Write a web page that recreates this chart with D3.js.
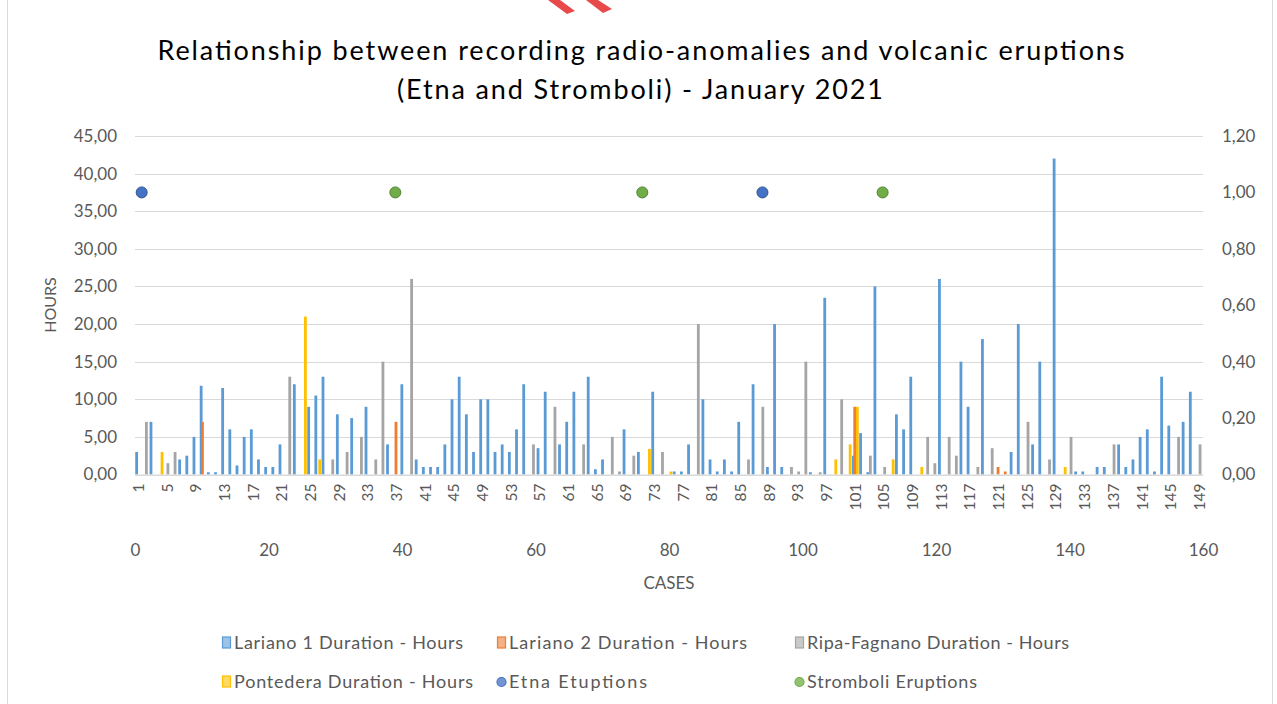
<!DOCTYPE html>
<html><head><meta charset="utf-8">
<script src="https://cdn.jsdelivr.net/npm/d3@7"></script>
<style>
body{margin:0;background:#fff;}
svg{display:block;font-family:Lato,"Open Sans",sans-serif;}
</style>
</head><body>
<svg id="chart" width="1277" height="704"></svg>
<script>
// ---------------- DATA ----------------
const cases = d3.range(1, 150);               // CASES 1..149
const caseTickLabels = d3.range(1, 150, 4);   // 1,5,9,...,149
const leftTicks = [0,5,10,15,20,25,30,35,40,45];
const rightTicks = [0,0.2,0.4,0.6,0.8,1.0,1.2];
const bottomTicks = [0,20,40,60,80,100,120,140,160];

// [case, hours]
const lariano1 = [[1,3],[3,7],[7,2],[8,2.5],[9,5],[10,11.8],[11,0.3],[12,0.3],[13,11.5],[14,6],[15,1.2],[16,5],[17,6],[18,2],[19,1],[20,1],[21,4],[23,12],[25,9],[26,10.5],[27,13],[29,8],[31,7.5],[33,9],[36,4],[38,12],[40,2],[41,1],[42,1],[43,1],[44,4],[45,10],[46,13],[47,8],[48,3],[49,10],[50,10],[51,3],[52,4],[53,3],[54,6],[55,12],[57,3.5],[58,11],[60,4],[61,7],[62,11],[64,13],[65,0.7],[66,2],[69,6],[71,3],[73,11],[76,0.4],[77,0.4],[78,4],[80,10],[81,2],[82,0.4],[83,2],[84,0.4],[85,7],[87,12],[89,1],[90,20],[91,1],[95,0.3],[97,23.5],[101,2.5],[102,5.5],[103,0.3],[104,25],[107,8],[108,6],[109,13],[113,26],[116,15],[117,9],[119,18],[123,3],[124,20],[126,4],[127,15],[129,42],[132,0.4],[133,0.4],[135,1],[136,1],[138,4],[139,1],[140,2],[141,5],[142,6],[143,0.4],[144,13],[145,6.5],[147,7],[148,11]];
const lariano2 = [[10,7],[37,7],[101,9],[121,1],[122,0.4]];
const ripaFagnano = [[2,7],[5,1.5],[6,3],[22,13],[28,2],[30,3],[32,5],[34,2],[35,15],[39,26],[56,4],[59,9],[63,4],[67,5],[68,0.4],[70,2.5],[74,3],[79,20],[86,2],[88,9],[92,1],[93,0.4],[94,15],[96,0.3],[99,10],[103,2.5],[105,1],[111,5],[112,1.5],[114,5],[115,2.5],[118,1],[120,3.5],[125,7],[128,2],[131,5],[137,4],[146,5],[149,4]];
const pontedera = [[4,3],[24,21],[26,2],[72,3.4],[75,0.4],[98,2],[100,4],[101,9],[106,2],[110,1],[130,1]];

const etnaX = [1, 94];
const etnaY = [1, 1];
const stromboliX = [39, 76, 112];
const stromboliY = [1, 1, 1];

const seriesNames = ["Lariano 1 Duration - Hours","Lariano 2 Duration - Hours","Ripa-Fagnano Duration - Hours","Pontedera Duration - Hours"];
const seriesColors = ["#5b9bd5","#ed7d31","#a5a5a5","#ffc000"];
const seriesData = [lariano1, lariano2, ripaFagnano, pontedera];

// ---------------- LAYOUT ----------------
const svg = d3.select("#chart");
const L = 135, R = 1203, T = 136, B = 474.5;
const textCol = "#595959";

svg.append("rect").attr("x",7.5).attr("y",-1).attr("width",1265).attr("height",707)
  .attr("fill","none").attr("stroke","#d9d9d9");

// red pen mark at top (as in the reference)
svg.append("path").attr("d","M548,0 L560,0 L575,11 L567,14 Z M586,0 L598,0 L612,9 L603,13 Z")
  .attr("fill","#e8494a");

const x = d3.scaleBand().domain(cases).range([L, R]).padding(0);
const xSub = d3.scaleBand().domain(d3.range(4)).range([-2.6, 2.6]);
const y = d3.scaleLinear().domain([0,45]).range([B, T]);
const y2 = d3.scaleLinear().domain([0,1.2]).range([B, T]);
const x2 = d3.scaleLinear().domain([0,160]).range([L, R]);

const fmt = v => d3.format(".2f")(v).replace(".", ",");

// gridlines
svg.append("g").selectAll("line").data(leftTicks).join("line")
  .attr("x1",L).attr("x2",R).attr("y1",d=>Math.round(y(d))+0.5).attr("y2",d=>Math.round(y(d))+0.5)
  .attr("stroke","#d9d9d9").attr("stroke-width",1.2);

// left axis
const gL = svg.append("g").attr("transform",`translate(117,0)`)
  .call(d3.axisLeft(y).tickValues(leftTicks).tickFormat(fmt).tickSize(0).tickPadding(0));
gL.select(".domain").remove();
gL.selectAll("text").attr("fill",textCol).style("font-size","17px").style("font-family","Lato");

// right axis
const gR = svg.append("g").attr("transform",`translate(1222,0)`)
  .call(d3.axisRight(y2).tickValues(rightTicks).tickFormat(fmt).tickSize(0).tickPadding(0));
gR.select(".domain").remove();
gR.selectAll("text").attr("fill",textCol).style("font-size","17px").style("font-family","Lato");

// bars
const barW = 2.8;
seriesData.forEach((arr, si) => {
  svg.append("g").selectAll("rect").data(arr).join("rect")
    .attr("x", d => x(d[0]) + x.bandwidth()/2 + xSub(si) + xSub.bandwidth()/2 - barW/2)
    .attr("width", barW)
    .attr("y", d => y(d[1]))
    .attr("height", d => B - y(d[1]))
    .attr("fill", seriesColors[si]);
});

// category axis
const gX = svg.append("g").attr("transform",`translate(0,${B})`)
  .call(d3.axisBottom(x).tickValues(caseTickLabels).tickSize(0).tickPadding(0));
gX.select(".domain").attr("stroke","#d9d9d9").attr("stroke-width",1.2);
gX.selectAll("text").attr("fill",textCol).style("font-size","15.5px").style("font-family","Lato")
  .attr("text-anchor","end").attr("transform","translate(0,9) rotate(-90)").attr("dy","0.35em").attr("y",0).attr("x",0);

// secondary x axis (0..160)
const gX2 = svg.append("g").attr("transform",`translate(0,544)`)
  .call(d3.axisBottom(x2).tickValues(bottomTicks).tickFormat(d3.format("d")).tickSize(0).tickPadding(0));
gX2.select(".domain").remove();
gX2.selectAll("text").attr("fill",textCol).style("font-size","17px").style("font-family","Lato");

// scatter points
const etna = etnaX.map((v,i)=>[v, etnaY[i]]);
const strom = stromboliX.map((v,i)=>[v, stromboliY[i]]);
svg.append("g").selectAll("circle").data(etna).join("circle")
  .attr("cx",d=>x2(d[0])).attr("cy",d=>y2(d[1])).attr("r",5.5)
  .attr("fill","#4472c4").attr("stroke","#2f528f").attr("stroke-width",1);
svg.append("g").selectAll("circle").data(strom).join("circle")
  .attr("cx",d=>x2(d[0])).attr("cy",d=>y2(d[1])).attr("r",5.5)
  .attr("fill","#70ad47").attr("stroke","#507e32").attr("stroke-width",1);

// axis titles
svg.append("text").attr("transform","translate(56,305) rotate(-90)").attr("text-anchor","middle")
  .attr("fill",textCol).style("font-size","16px").text("HOURS");
svg.append("text").attr("x",669).attr("y",589).attr("text-anchor","middle")
  .attr("fill",textCol).style("font-size","17px").text("CASES");

// title
const title = svg.append("text").attr("text-anchor","middle").attr("fill","#000").style("font-size","27px");
title.append("tspan").attr("x",641).attr("y",60).attr("textLength",967).attr("lengthAdjust","spacing")
  .text("Relationship between recording radio-anomalies and volcanic eruptions");
title.append("tspan").attr("x",640).attr("y",99).attr("textLength",486).attr("lengthAdjust","spacing")
  .text("(Etna and Stromboli) - January 2021");

// legend
const legendItems = [
  {name: seriesNames[0], color: seriesColors[0], type:"rect", x:222, y:643, w:229},
  {name: seriesNames[1], color: seriesColors[1], type:"rect", x:497, y:643, w:238},
  {name: seriesNames[2], color: seriesColors[2], type:"rect", x:795, y:643, w:262},
  {name: seriesNames[3], color: seriesColors[3], type:"rect", x:222, y:682, w:239},
  {name: "Etna Etuptions", color: "#4472c4", type:"circle", x:497, y:682, w:138},
  {name: "Stromboli Eruptions", color: "#70ad47", type:"circle", x:795, y:682, w:170}
];
const lg = svg.append("g");
legendItems.forEach(it => {
  if (it.type === "rect") {
    lg.append("rect").attr("x",it.x+0.5).attr("y",it.y-6).attr("width",8).attr("height",11)
      .attr("fill",it.color).attr("fill-opacity",0.6).attr("stroke",it.color).attr("stroke-width",1.2);
  } else {
    lg.append("circle").attr("cx",it.x+4.5).attr("cy",it.y).attr("r",4.5)
      .attr("fill",it.color).attr("fill-opacity",0.75).attr("stroke",it.color).attr("stroke-width",1.2);
  }
  lg.append("text").attr("x",it.x+12).attr("y",it.y).attr("dy","0.35em")
    .attr("textLength",it.w).attr("lengthAdjust","spacing")
    .attr("fill",textCol).style("font-size","18px").text(it.name);
});
</script>
</body></html>
